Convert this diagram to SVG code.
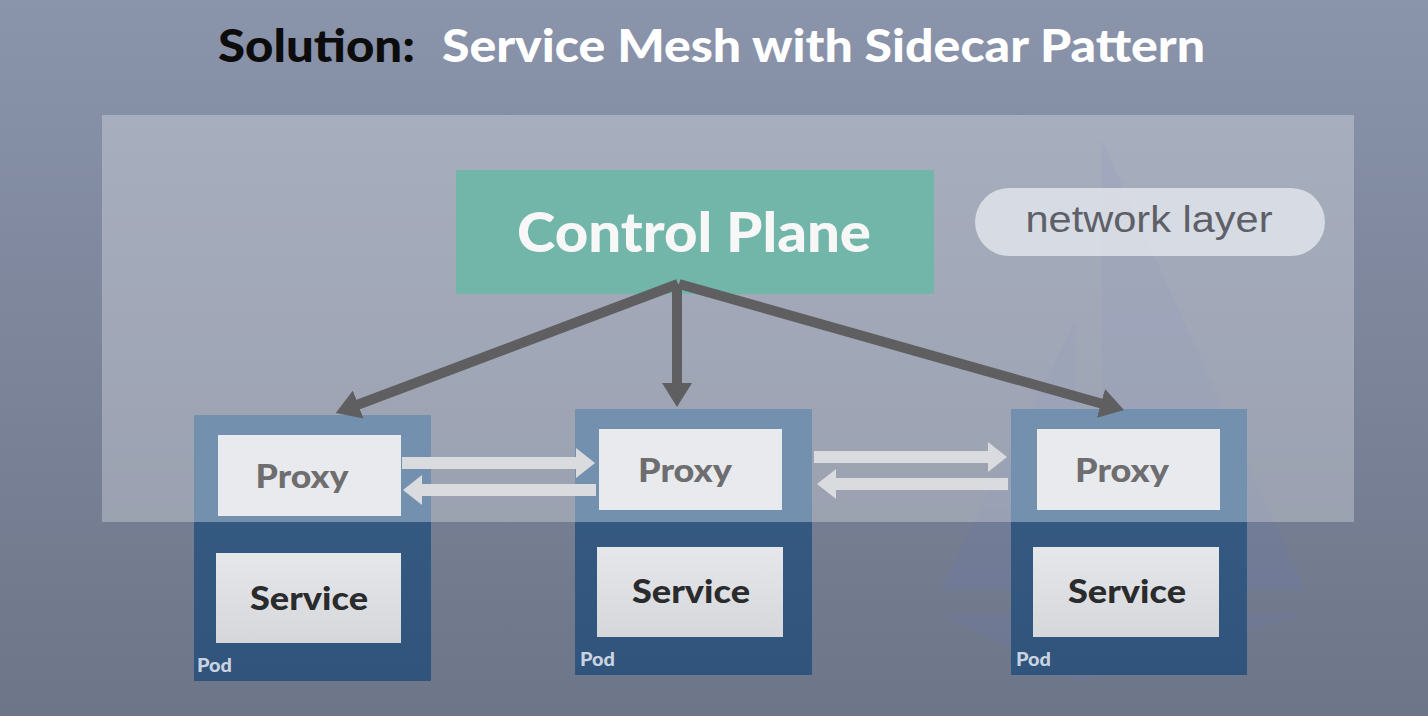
<svg xmlns="http://www.w3.org/2000/svg" width="1428" height="716" viewBox="0 0 1428 716">
<defs>
<linearGradient id="bg" x1="0" y1="0" x2="0" y2="1">
<stop offset="0" stop-color="#8a94ab"/>
<stop offset="1" stop-color="#6d7588"/>
</linearGradient>
<linearGradient id="svcfill" x1="0" y1="0" x2="0" y2="1">
<stop offset="0" stop-color="#e6e7ea"/>
<stop offset="1" stop-color="#d5d7db"/>
</linearGradient>
<linearGradient id="podgrad" x1="0" y1="0" x2="0" y2="1">
<stop offset="0" stop-color="#385d83"/>
<stop offset="1" stop-color="#30547c"/>
</linearGradient>
<marker id="darkhead" markerUnits="userSpaceOnUse" markerWidth="26" markerHeight="30" refX="12" refY="15" orient="auto" viewBox="0 0 26 30">
<path d="M0,0 L24,15 L0,30 z" fill="#5f5f61"/>
</marker>
<marker id="lighthead" markerUnits="userSpaceOnUse" markerWidth="20" markerHeight="30" refX="10" refY="15" orient="auto" viewBox="0 0 20 30">
<path d="M0,0 L19,15 L0,30 z" fill="#dadbde"/>
</marker>
</defs>
<style>
.title{font-family:Lato,"Open Sans","Liberation Sans",sans-serif;font-weight:900;font-size:46px}
.cp{font-family:Lato,"Open Sans","Liberation Sans",sans-serif;font-weight:900;font-size:56px;fill:#f7f7f7}
.net{font-family:"Liberation Sans",Arial,sans-serif;font-size:36px;fill:#5e6068}
.proxyt{font-family:Lato,"Open Sans","Liberation Sans",sans-serif;font-weight:900;font-size:32px;fill:#6e6e70}
.svct{font-family:Lato,"Open Sans","Liberation Sans",sans-serif;font-weight:900;font-size:32px;fill:#2a2b2d}
.podt{font-family:Lato,"Open Sans","Liberation Sans",sans-serif;font-weight:900;font-size:18px;fill:#c9d3e0}
.podtop{fill:#7391ae}
.podbot{fill:url(#podgrad)}
.proxyb{fill:#e9eaee}
.svcb{fill:url(#svcfill)}
.dark{stroke:#5f5f61;stroke-width:10;fill:none;marker-end:url(#darkhead)}
.light{stroke:#dadbde;stroke-width:12;fill:none;marker-end:url(#lighthead)}
</style>
<rect width="1428" height="716" fill="url(#bg)"/>
<g id="watermark" fill="#6f7aa8" opacity="0.28">
<polygon points="1102,140 1305,590 1102,590"/>
<polygon points="1076,320 1076,590 940,590"/>
<polygon points="940,615 1300,615 1080,682"/>
</g>
<rect id="network-area" x="102" y="115" width="1252" height="407" fill="#ffffff" fill-opacity="0.28"/>
<g id="title">
<text class="title" x="218" y="62" fill="#0c0c0c" textLength="197" lengthAdjust="spacingAndGlyphs">Solution:</text>
<text class="title" x="442" y="62" fill="#ffffff" textLength="763" lengthAdjust="spacingAndGlyphs">Service Mesh with Sidecar Pattern</text>
</g>
<g id="network-layer">
<rect x="975" y="188" width="350" height="68" rx="34" ry="34" fill="#dee1e8" fill-opacity="0.88"/>
<text class="net" x="1149" y="232" text-anchor="middle" textLength="247" lengthAdjust="spacingAndGlyphs">network layer</text>
</g>
<g id="control-plane">
<rect x="456" y="170" width="478" height="124" fill="#72b6aa"/>
<text class="cp" x="694" y="252" text-anchor="middle" textLength="354" lengthAdjust="spacingAndGlyphs">Control Plane</text>
</g>
<g id="pod1">
<rect class="podbot" x="194" y="415" width="237" height="266"/>
<rect class="podtop" x="194" y="415" width="237" height="107"/>
<rect class="proxyb" x="218" y="435" width="183" height="81"/>
<text class="proxyt" x="302" y="488" text-anchor="middle" textLength="93" lengthAdjust="spacingAndGlyphs">Proxy</text>
<rect class="svcb" x="216" y="553" width="185" height="90"/>
<text class="svct" x="309" y="610" text-anchor="middle" textLength="118" lengthAdjust="spacingAndGlyphs">Service</text>
<text class="podt" x="197" y="672" textLength="35" lengthAdjust="spacingAndGlyphs">Pod</text>
</g>
<g id="pod2">
<rect class="podbot" x="575" y="409" width="237" height="266"/>
<rect class="podtop" x="575" y="409" width="237" height="113"/>
<rect class="proxyb" x="599" y="429" width="183" height="81"/>
<text class="proxyt" x="685" y="482" text-anchor="middle" textLength="94" lengthAdjust="spacingAndGlyphs">Proxy</text>
<rect class="svcb" x="597" y="547" width="186" height="90"/>
<text class="svct" x="691" y="603" text-anchor="middle" textLength="118" lengthAdjust="spacingAndGlyphs">Service</text>
<text class="podt" x="580" y="666" textLength="35" lengthAdjust="spacingAndGlyphs">Pod</text>
</g>
<g id="pod3">
<rect class="podbot" x="1011" y="409" width="236" height="266"/>
<rect class="podtop" x="1011" y="409" width="236" height="113"/>
<rect class="proxyb" x="1037" y="429" width="183" height="81"/>
<text class="proxyt" x="1122" y="482" text-anchor="middle" textLength="94" lengthAdjust="spacingAndGlyphs">Proxy</text>
<rect class="svcb" x="1033" y="547" width="186" height="90"/>
<text class="svct" x="1127" y="603" text-anchor="middle" textLength="118" lengthAdjust="spacingAndGlyphs">Service</text>
<text class="podt" x="1016" y="666" textLength="35" lengthAdjust="spacingAndGlyphs">Pod</text>
</g>
<g id="connectors">
<line class="dark" x1="678" y1="284" x2="347" y2="408.7"/>
<line class="dark" x1="677" y1="284" x2="677" y2="395"/>
<line class="dark" x1="679" y1="284" x2="1112.5" y2="406.7"/>
<line class="light" x1="402" y1="463" x2="586" y2="463"/>
<line class="light" x1="596" y1="490" x2="412" y2="490"/>
<line class="light" x1="814" y1="457" x2="998" y2="457"/>
<line class="light" x1="1008" y1="484" x2="826" y2="484"/>
</g>
</svg>
